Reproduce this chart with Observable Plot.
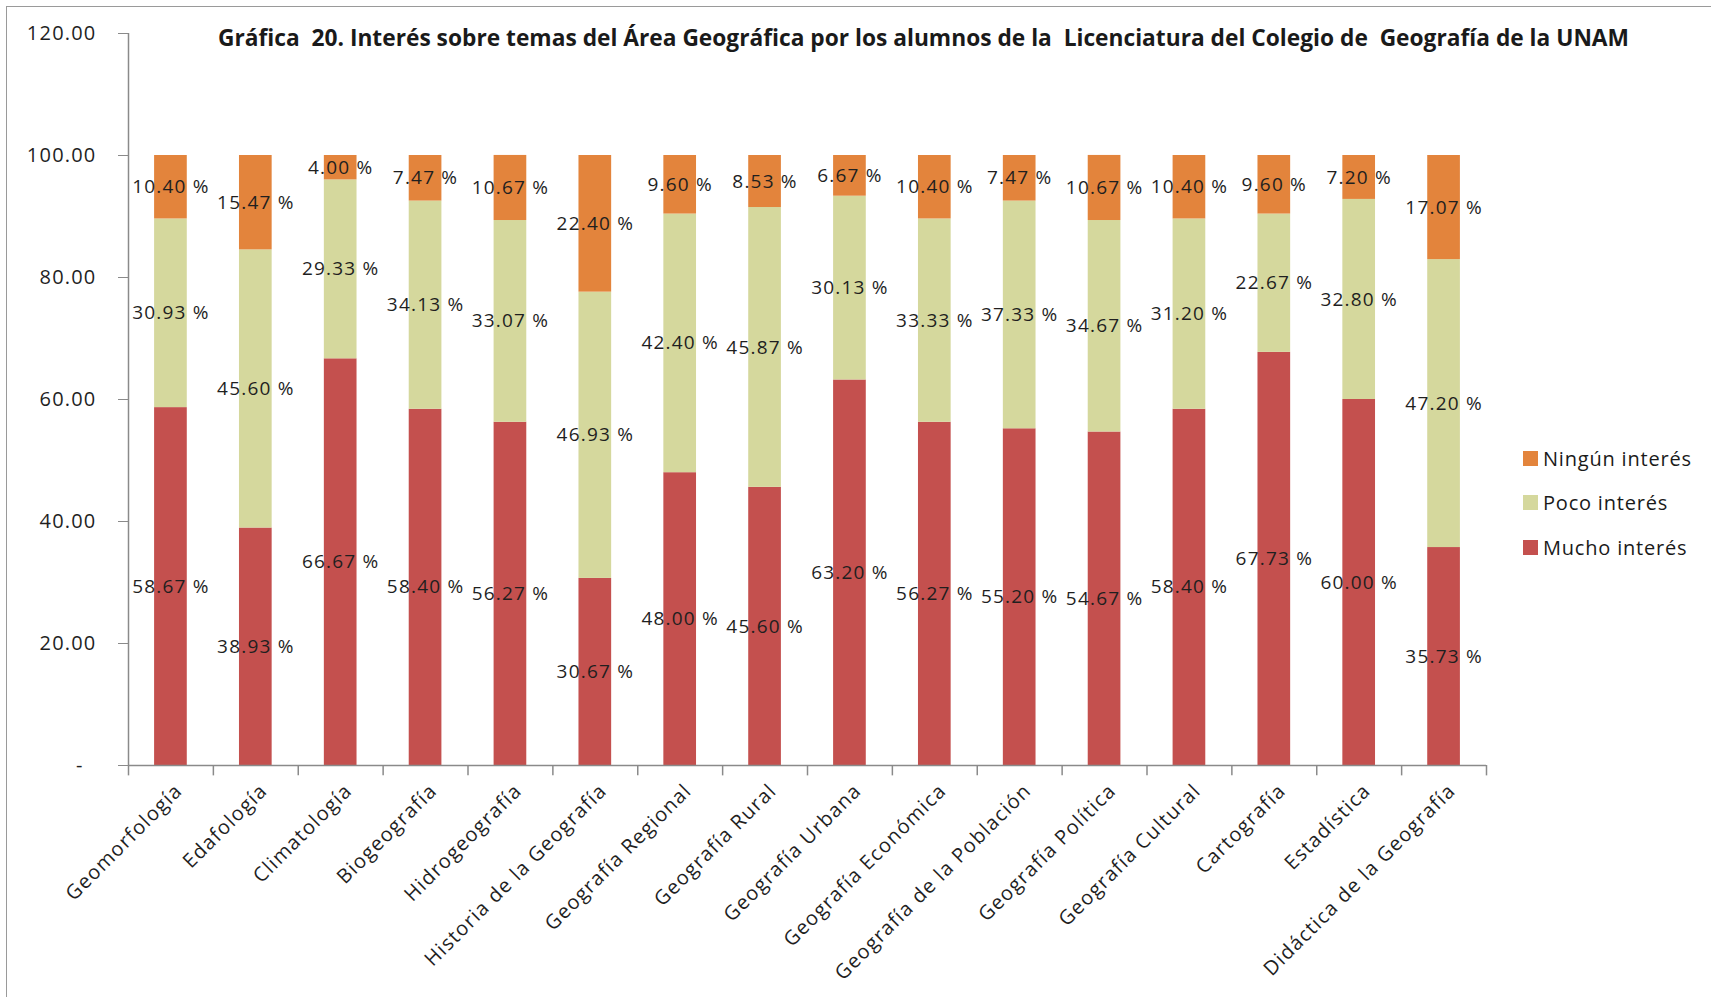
<!DOCTYPE html>
<html>
<head>
<meta charset="utf-8">
<script src="https://cdn.jsdelivr.net/npm/d3@7"></script>
<script src="https://cdn.jsdelivr.net/npm/@observablehq/plot@0.6"></script>
<style>
  html, body { margin: 0; padding: 0; background: #fff; overflow: hidden; }
  #wrap { position: relative; width: 1711px; height: 997px; overflow: hidden; font-family: "Open Sans", sans-serif; }
  #frame { position: absolute; left: 6px; top: 6px; width: 1800px; height: 1100px; border-top: 1.5px solid #9a9a9a; border-left: 1.5px solid #9a9a9a; }
  #title { position: absolute; left: 218px; top: 22px; font-weight: 700; font-size: 23px; white-space: pre; color: #1a1a1a; transform-origin: 0 0; line-height: 30px; }
  #legend { position: absolute; left: 1523px; top: 436px; font-size: 20px; color: #1a1a1a; letter-spacing: 0.8px; }
  #legend .row { display: flex; align-items: center; height: 44.5px; }
  #legend .sw { width: 15px; height: 15px; margin-right: 5px; }
  svg text { letter-spacing: 1.2px; }
  #chart { position: absolute; left: 0; top: 0; }
</style>
</head>
<body>
<div id="wrap">
  <div id="frame"></div>
  <div id="chart"></div>
  <div id="title"></div>
  <div id="legend"></div>
</div>
<script>
const titleText = "Gráfica  20. Interés sobre temas del Área Geográfica por los alumnos de la  Licenciatura del Colegio de  Geografía de la UNAM";

const categories = [
  "Geomorfología", "Edafología", "Climatología", "Biogeografía", "Hidrogeografía",
  "Historia de la Geografía", "Geografía Regional", "Geografía Rural", "Geografía Urbana",
  "Geografía Económica", "Geografía de la Población", "Geografía Política",
  "Geografía Cultural", "Cartografía", "Estadística", "Didáctica de la Geografía"
];
const series = ["Mucho interés", "Poco interés", "Ningún interés"];
const mucho  = [58.67, 38.93, 66.67, 58.40, 56.27, 30.67, 48.00, 45.60, 63.20, 56.27, 55.20, 54.67, 58.40, 67.73, 60.00, 35.73];
const poco   = [30.93, 45.60, 29.33, 34.13, 33.07, 46.93, 42.40, 45.87, 30.13, 33.33, 37.33, 34.67, 31.20, 22.67, 32.80, 47.20];
const ningun = [10.40, 15.47, 4.00, 7.47, 10.67, 22.40, 9.60, 8.53, 6.67, 10.40, 7.47, 10.67, 10.40, 9.60, 7.20, 17.07];
const colors = ["#C4504E", "#D5D89D", "#E3843C"];
const yTicks = [0, 20, 40, 60, 80, 100, 120];

const seriesValues = [mucho, poco, ningun];
const data = [];
series.forEach((s, si) => {
  categories.forEach((c, ci) => {
    data.push({ category: c, series: s, value: seriesValues[si][ci] });
  });
});

const W = 1711, H = 997;
const mL = 128, mR = 225, mT = 33, mB = 232;
const step = (W - mL - mR) / categories.length;
const axisColor = "#8a8a8a";
const txt = "#1f1f1f";

const plot = Plot.plot({
  width: W,
  height: H,
  marginLeft: mL,
  marginRight: mR,
  marginTop: mT,
  marginBottom: mB,
  style: { fontFamily: "'Open Sans', sans-serif", background: "transparent", color: txt },
  x: { domain: categories, paddingInner: 0.615, paddingOuter: 0.3075, round: false, label: null },
  y: { domain: [0, 120], label: null },
  color: { domain: series, range: colors },
  marks: [
    Plot.barY(data, Plot.stackY({ x: "category", y: "value", fill: "series", order: series })),
    Plot.ruleY([0], { stroke: axisColor, strokeWidth: 1.5 }),
    Plot.ruleX([categories[0]], { x: d => d, dx: -step / 2, y1: 0, y2: 120, stroke: axisColor, strokeWidth: 1.5 }),
    Plot.ruleX(categories, { x: d => d, dx: -step / 2, y1: 0, y2: -1.7, stroke: axisColor, strokeWidth: 1.5 }),
    Plot.ruleX([categories[categories.length - 1]], { x: d => d, dx: step / 2, y1: 0, y2: -1.7, stroke: axisColor, strokeWidth: 1.5 }),
    Plot.axisY({
      ticks: yTicks, tickSize: 10, tickPadding: 22, fontSize: 20, stroke: axisColor, fill: txt,
      tickFormat: d => d === 0 ? "-\u00a0\u00a0" : d.toFixed(2)
    }),
    Plot.axisX({
      tickSize: 0, tickRotate: -45, tickPadding: 22, dx: 8, fontSize: 20, fill: txt
    }),
    Plot.text(data, Plot.stackY({
      x: "category", y: "value", z: "series", order: series,
      text: d => d.value.toFixed(2) + " %",
      fontSize: 19, fill: txt
    }))
  ]
});
document.getElementById("chart").appendChild(plot);

const t = document.getElementById("title");
t.textContent = titleText;
const tw = t.getBoundingClientRect().width;
t.style.transform = `scaleX(${1411 / tw})`;

const legend = document.getElementById("legend");
[...series].reverse().forEach(s => {
  const row = document.createElement("div");
  row.className = "row";
  const sw = document.createElement("div");
  sw.className = "sw";
  sw.style.background = colors[series.indexOf(s)];
  const lab = document.createElement("span");
  lab.textContent = s;
  row.appendChild(sw);
  row.appendChild(lab);
  legend.appendChild(row);
});
</script>
</body>
</html>
